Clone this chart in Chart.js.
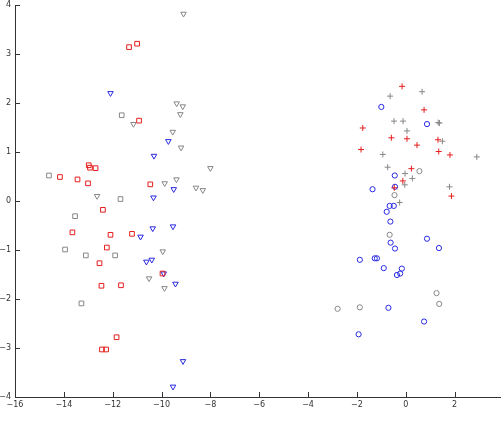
<!DOCTYPE html>
<html>
<head>
<meta charset="utf-8">
<script src="https://cdn.jsdelivr.net/npm/chart.js@4/dist/chart.umd.min.js"></script>
<style>
html,body{margin:0;padding:0;background:#fff;}
canvas{display:block;}
</style>
</head>
<body>
<canvas id="c" width="501" height="425"></canvas>
<script>
// ---- data ----
const xTicks = [-16,-14,-12,-10,-8,-6,-4,-2,0,2];
const yTicks = [-4,-3,-2,-1,0,1,2,3,4];

const redSquareX = [-11.33,-11.0,-10.92,-12.98,-12.93,-12.70,-14.16,-13.44,-13.01,-10.46,-12.40,-13.65,-12.09,-11.21,-12.24,-12.54,-9.96,-12.46,-11.66,-11.84,-12.44,-12.27];
const redSquareY = [3.14,3.21,1.64,0.73,0.68,0.67,0.49,0.44,0.36,0.34,-0.18,-0.64,-0.69,-0.67,-0.95,-1.27,-1.48,-1.73,-1.72,-2.78,-3.03,-3.03];

const graySquareX = [-14.61,-11.63,-11.68,-13.54,-13.95,-13.10,-11.90,-13.28];
const graySquareY = [0.52,1.75,0.04,-0.31,-0.99,-1.11,-1.11,-2.09];

const blueTriX = [-12.09,-9.72,-10.31,-9.50,-10.33,-10.36,-9.53,-10.86,-10.62,-10.40,-9.91,-9.43,-9.12,-9.53];
const blueTriY = [2.20,1.22,0.92,0.24,0.07,-0.56,-0.52,-0.73,-1.24,-1.20,-1.48,-1.69,-3.27,-3.79];

const grayTriX = [-9.10,-9.38,-9.13,-9.23,-9.54,-9.20,-11.15,-8.00,-9.39,-9.87,-8.59,-8.31,-12.64,-9.95,-10.51,-9.88];
const grayTriY = [3.82,1.99,1.93,1.77,1.41,1.09,1.57,0.67,0.44,0.36,0.27,0.22,0.10,-1.03,-1.58,-1.78];

const redPlusX = [-0.15,0.75,-1.76,-0.59,0.05,1.32,0.46,-1.83,1.35,1.81,0.23,-0.12,1.87,-0.47];
const redPlusY = [2.34,1.86,1.49,1.29,1.27,1.25,1.14,1.05,1.01,0.94,0.66,0.41,0.10,0.27];

const grayPlusX = [-0.64,0.67,-0.48,-0.11,1.33,1.38,0.05,1.50,-0.94,2.91,-0.74,-0.03,0.27,-0.04,1.79,-0.25];
const grayPlusY = [2.14,2.23,1.63,1.63,1.60,1.59,1.43,1.22,0.95,0.90,0.69,0.56,0.46,0.33,0.29,-0.03];

const blueCircleX = [-1.00,0.87,-0.45,-1.36,-0.44,-0.66,-0.49,-0.78,-0.63,-0.62,-0.44,0.87,1.36,-1.88,-1.27,-1.18,-0.90,-0.16,-0.36,-0.23,-0.71,0.75,-1.93];
const blueCircleY = [1.92,1.57,0.52,0.24,0.29,-0.10,-0.10,-0.22,-0.42,-0.85,-0.97,-0.77,-0.96,-1.20,-1.17,-1.17,-1.37,-1.38,-1.51,-1.48,-2.18,-2.46,-2.72];

const grayCircleX = [0.56,-0.46,-0.66,1.26,1.37,-2.79,-1.88];
const grayCircleY = [0.61,0.12,-0.69,-1.88,-2.10,-2.20,-2.17];

// ---- styling ----
const RED = 'rgb(228,30,30)';
const BLUE = 'rgb(40,40,225)';
const GRAY = 'rgb(135,135,135)';

function pts(xs, ys){ return xs.map((x,i)=>({x:x, y:ys[i]})); }
function ds(xs, ys, color, style, radius, rot){
  return {
    data: pts(xs, ys),
    showLine: false,
    pointStyle: style,
    pointRadius: radius,
    pointHoverRadius: radius,
    pointRotation: rot || 0,
    pointBorderColor: color,
    pointBackgroundColor: 'rgba(0,0,0,0)',
    pointBorderWidth: 1
  };
}
const fmt = v => (v < 0 ? '\u2212' + Math.abs(v) : String(v));

const innerTicks = {
  id: 'innerTicks',
  afterDatasetsDraw(chart){
    const ctx = chart.ctx;
    const xs = chart.scales.x, ys = chart.scales.y;
    const area = chart.chartArea;
    const L = 5;
    ctx.save();
    ctx.strokeStyle = '#333';
    ctx.lineWidth = 1;
    ctx.setLineDash([]);
    ctx.beginPath();
    xTicks.forEach(v=>{
      const px = Math.round(xs.getPixelForValue(v)) + 0.5;
      ctx.moveTo(px, area.bottom);
      ctx.lineTo(px, area.bottom - L);
    });
    yTicks.forEach(v=>{
      const py = Math.round(ys.getPixelForValue(v)) + 0.5;
      ctx.moveTo(area.left, py);
      ctx.lineTo(area.left + L, py);
    });
    ctx.stroke();
    ctx.restore();
  }
};

new Chart(document.getElementById('c'), {
  type: 'scatter',
  data: {
    datasets: [
      ds(redSquareX, redSquareY, RED, 'rect', 3.3),
      ds(graySquareX, graySquareY, GRAY, 'rect', 3.3),
      ds(grayTriX, grayTriY, GRAY, 'triangle', 3.2, 180),
      ds(blueTriX, blueTriY, BLUE, 'triangle', 3.2, 180),
      ds(redPlusX, redPlusY, RED, 'cross', 3),
      ds(grayPlusX, grayPlusY, GRAY, 'cross', 3),
      ds(grayCircleX, grayCircleY, GRAY, 'circle', 2.6),
      ds(blueCircleX, blueCircleY, BLUE, 'circle', 2.6)
    ]
  },
  options: {
    responsive: false,
    animation: false,
    devicePixelRatio: 1,
    layout: { autoPadding: false, padding: { top: 5, right: 0, left: 0, bottom: 0 } },
    plugins: { legend: { display: false }, tooltip: { enabled: false } },
    events: [],
    scales: {
      x: {
        type: 'linear',
        min: -16,
        max: 3.9,
        grid: { display: false, drawTicks: false },
        border: { display: true, color: '#333', width: 1 },
        afterBuildTicks: s => { s.ticks = xTicks.map(v => ({value: v})); },
        afterFit: s => { s.height = 28; s.paddingLeft = 0; s.paddingRight = 0; },
        ticks: {
          autoSkip: false, maxRotation: 0, padding: 3,
          color: '#333',
          font: { family: 'DejaVu Sans', size: 8 },
          callback: v => fmt(v)
        }
      },
      y: {
        type: 'linear',
        min: -4,
        max: 4,
        grid: { display: false, drawTicks: false },
        border: { display: true, color: '#333', width: 1 },
        afterBuildTicks: s => { s.ticks = yTicks.map(v => ({value: v})); },
        afterFit: s => { s.width = 15; s.paddingTop = 0; s.paddingBottom = 0; },
        ticks: {
          autoSkip: false, padding: 4,
          color: '#333',
          font: { family: 'DejaVu Sans', size: 8 },
          callback: v => fmt(v)
        }
      }
    }
  },
  plugins: [innerTicks]
});
</script>
</body>
</html>
